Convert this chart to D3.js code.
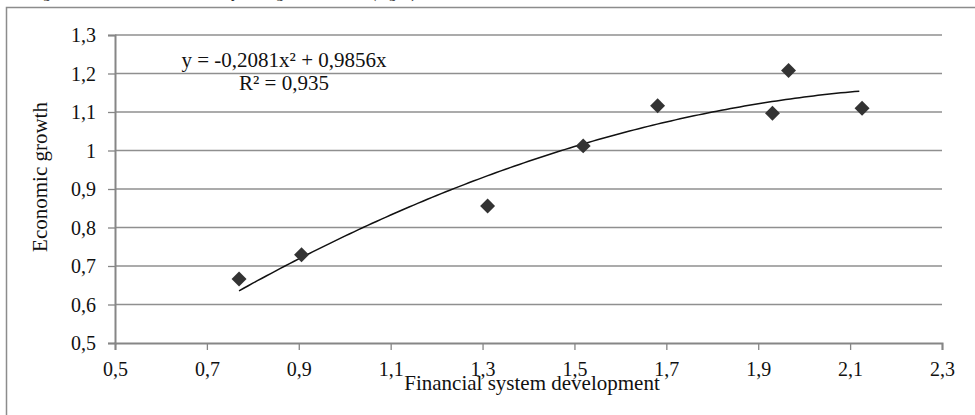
<!DOCTYPE html>
<html>
<head>
<meta charset="utf-8">
<script src="https://cdn.jsdelivr.net/npm/d3@7"></script>
<style>
  body { margin: 0; background: #fff; }
  svg { display: block; }
  svg text { font-family: 'Liberation Serif', 'Times New Roman', serif; fill: #111; }
</style>
</head>
<body>
<svg id="chart" width="975" height="415"></svg>
<script>
// data
const finDev = [0.770, 0.906, 1.311, 1.519, 1.681, 1.931, 1.966, 2.126]
const growth = [0.666, 0.729, 0.856, 1.012, 1.116, 1.097, 1.208, 1.110]

const xTicks = [0.5, 0.7, 0.9, 1.1, 1.3, 1.5, 1.7, 1.9, 2.1, 2.3]
const xTickLabels = ['0,5', '0,7', '0,9', '1,1', '1,3', '1,5', '1,7', '1,9', '2,1', '2,3']
const yTicks = [0.5, 0.6, 0.7, 0.8, 0.9, 1.0, 1.1, 1.2, 1.3]
const yTickLabels = ['0,5', '0,6', '0,7', '0,8', '0,9', '1', '1,1', '1,2', '1,3']

// polynomial trend line y = a*x^2 + b*x (from the chart's own label)
const trendCoef = [-0.2081, 0.9856]
const trendLabel = ['y = -0,2081x² + 0,9856x', 'R² = 0,935']

const svg = d3.select('#chart')

const xScale = d3.scaleLinear().domain([0.5, 2.3]).range([115, 942])
const yScale = d3.scaleLinear().domain([0.5, 1.3]).range([343, 35])

// clipped sentence from the page above the figure
svg.append('text')
    .attr('x', 420)
    .attr('y', -2)
    .attr('text-anchor', 'end')
    .attr('font-size', 15)
    .text('economic growth indicator is illustrated by the regression model (Fig. 3).')

// frame of the chart object (cut off at right / bottom)
svg.append('rect')
    .attr('x', 6.5)
    .attr('y', 7.5)
    .attr('width', 1200)
    .attr('height', 600)
    .attr('fill', 'none')
    .attr('stroke', '#8c8c8c')
    .attr('stroke-width', 1.5)

// horizontal gridlines
svg.append('g').selectAll('line').data(yTicks.slice(1)).enter().append('line')
    .attr('x1', xScale(0.5))
    .attr('x2', xScale(2.3))
    .attr('y1', d => yScale(d))
    .attr('y2', d => yScale(d))
    .attr('stroke', '#8f8f8f')
    .attr('stroke-width', 1.3)

// y axis
const yAxis = d3.axisLeft(yScale)
    .tickValues(yTicks)
    .tickFormat((d, i) => yTickLabels[i])
    .tickSize(7)
    .tickPadding(12)

const gy = svg.append('g')
    .attr('transform', `translate(${xScale(0.5)},0)`)
    .call(yAxis)
    .attr('font-family', null)
    .attr('font-size', 20)
gy.select('.domain').attr('stroke', '#868686').attr('stroke-width', 2)
gy.selectAll('.tick line').attr('stroke', '#868686').attr('stroke-width', 1.3)
gy.selectAll('.tick text').attr('fill', '#111').attr('dy', '0.34em')

// x axis
const xAxis = d3.axisBottom(xScale)
    .tickValues(xTicks)
    .tickFormat((d, i) => xTickLabels[i])
    .tickSize(7)
    .tickPadding(12)

const gx = svg.append('g')
    .attr('transform', `translate(0,${yScale(0.5)})`)
    .call(xAxis)
    .attr('font-family', null)
    .attr('font-size', 20)
gx.select('.domain').attr('stroke', '#868686').attr('stroke-width', 2)
gx.selectAll('.tick line').attr('stroke', '#868686').attr('stroke-width', 1.3)
gx.selectAll('.tick text').attr('fill', '#111').attr('dy', '0.71em')

// axis titles
svg.append('text')
    .attr('x', 532)
    .attr('y', 390)
    .attr('text-anchor', 'middle')
    .attr('font-size', 21)
    .text('Financial system development')

svg.append('text')
    .attr('transform', 'translate(47,177) rotate(-90)')
    .attr('text-anchor', 'middle')
    .attr('font-size', 21)
    .text('Economic growth')

// trend line
const trendX = d3.range(d3.min(finDev), d3.max(finDev) + 0.001, 0.01)
const line = d3.line()
    .x(d => xScale(d))
    .y(d => yScale(trendCoef[0] * d * d + trendCoef[1] * d))

svg.append('path')
    .datum(trendX)
    .attr('d', line)
    .attr('fill', 'none')
    .attr('stroke', '#111')
    .attr('stroke-width', 1.5)

// points
const diamond = d3.symbol().type(d3.symbolSquare).size(112)
svg.append('g').selectAll('path').data(finDev).enter().append('path')
    .attr('d', diamond)
    .attr('transform', (d, i) => `translate(${xScale(d)},${yScale(growth[i])}) rotate(45)`)
    .attr('fill', '#333')

// equation label
svg.append('g').selectAll('text').data(trendLabel).enter().append('text')
    .attr('x', 284)
    .attr('y', (d, i) => 67 + i * 23)
    .attr('text-anchor', 'middle')
    .attr('font-size', 21)
    .text(d => d)
</script>
</body>
</html>
